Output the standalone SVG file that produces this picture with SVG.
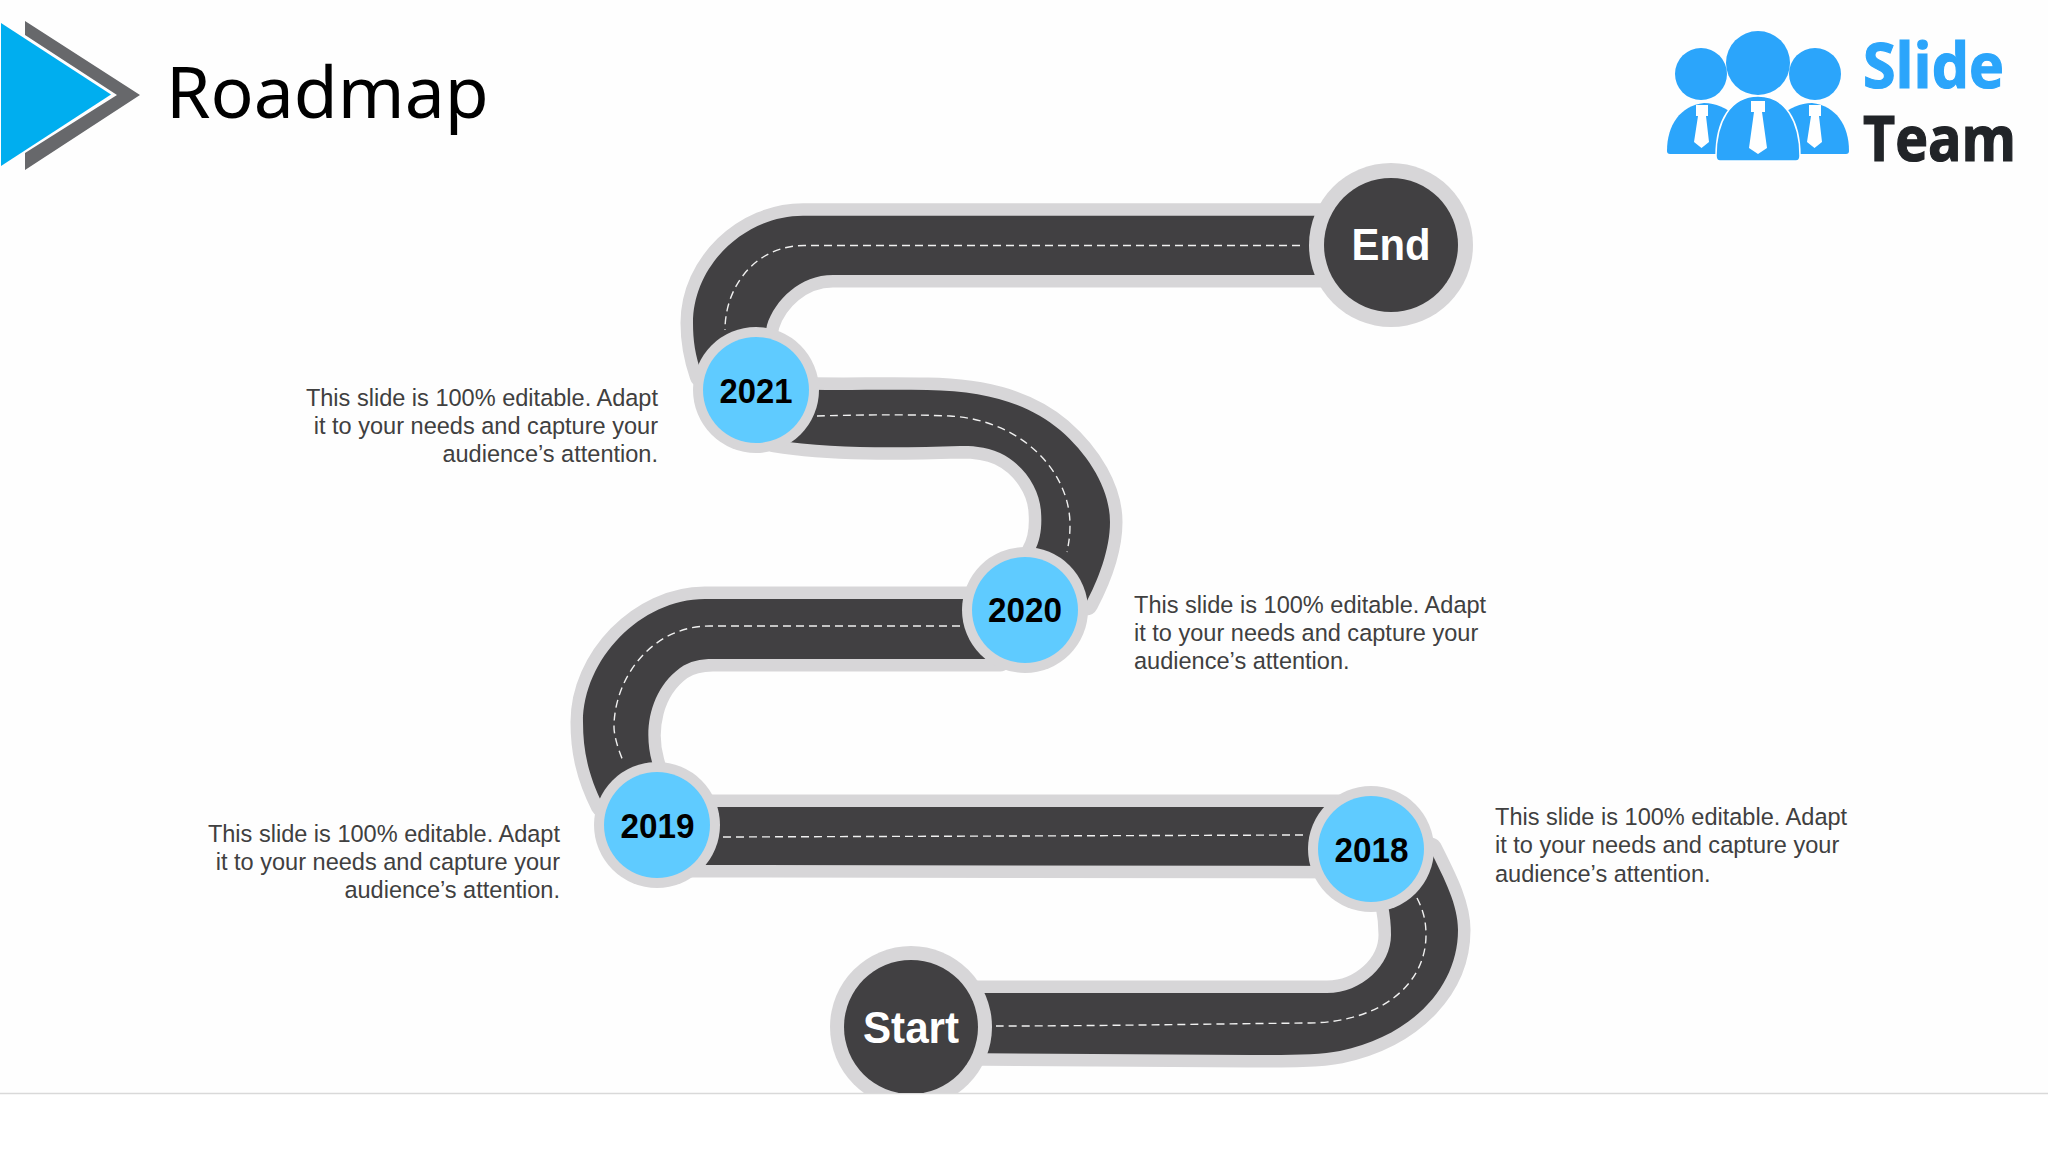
<svg xmlns="http://www.w3.org/2000/svg" width="2048" height="1152" viewBox="0 0 2048 1152">
<defs>
<clipPath id="slideClip"><rect x="0" y="0" width="2048" height="1093"/></clipPath>
</defs>
<style>
.road{fill:#414042;stroke:#d7d6d8;stroke-width:25;paint-order:stroke;stroke-linejoin:round}
.dash{fill:none;stroke:#f0f0f0;stroke-width:1.4;stroke-dasharray:8 5}
.rim{fill:#d7d6d8}
.blue{fill:#5fcbff}
.dark{fill:#414042}
.yr{font:bold 35px "Liberation Sans",Arial,sans-serif;fill:#000;text-anchor:middle}
.big{font:bold 44px "Liberation Sans",Arial,sans-serif;fill:#fff;text-anchor:middle}
.body{font:23.55px "Liberation Sans",Arial,sans-serif;fill:#404040}
.end{text-anchor:end}
.tie{fill:#fff}
.lg{fill:#2ba5fb}
</style>
<rect width="2048" height="1152" fill="#ffffff"/>
<rect width="2048" height="1093" fill="#fefefe"/>
<line x1="0" y1="1093.5" x2="2048" y2="1093.5" stroke="#d9d9d9" stroke-width="1.5"/>

<g id="header">
<polygon points="25,21 140,95 25,170 25,153 117,95 25,35" fill="#67686b"/>
<polygon points="1,23 111,94.5 1,166" fill="#00aeef"/>
<text x="166" y="118" font-family="'Noto Sans','Open Sans',sans-serif" font-size="71.500" fill="#000">Roadmap</text>
</g>

<g id="logo">
<circle class="lg" cx="1701" cy="74" r="26"/>
<circle class="lg" cx="1815" cy="74" r="26"/>
<circle class="lg" cx="1758" cy="63" r="32"/>
<path class="lg" d="M1667 151C1667 125 1680 106 1704 103C1716 103 1726 108 1735 115V154H1670Q1667 154 1667 151Z"/>
<path class="lg" d="M1849 151C1849 125 1836 106 1812 103C1800 103 1790 108 1781 115V154H1846Q1849 154 1849 151Z"/>
<path class="lg" stroke="#ffffff" stroke-width="1.500" d="M1716 156C1716 122 1730 96 1758 96C1786 96 1800 122 1800 156Q1800 161 1796 161H1720Q1716 161 1716 156Z"/>
<path class="tie" d="M1696 105H1708V116H1706L1709 142L1701.500 148L1694 142L1698 116H1696Z"/>
<path class="tie" d="M1751 101H1765V112H1762L1767 148L1758 154L1749 148L1754 112H1751Z"/>
<path class="tie" d="M1809 105H1821V116H1819L1822 142L1814.500 148L1807 142L1811 116H1809Z"/>
<text x="1863" y="88" font-family="'Open Sans','Noto Sans',sans-serif" font-weight="700" font-size="62" fill="#2ba5fb" stroke="#2ba5fb" stroke-width="1.2" textLength="141" lengthAdjust="spacingAndGlyphs">Slide</text>
<text x="1863" y="161" font-family="'Open Sans','Noto Sans',sans-serif" font-weight="700" font-size="62" fill="#212428" stroke="#212428" stroke-width="1.2" textLength="153" lengthAdjust="spacingAndGlyphs">Team</text>
</g>

<g id="connectors">
<path class="road" d="M1391 215.700H803C745 215.700 693 265 693 323C693 340 695 355 702 375L765 335L767 325C775 300 800 275 833 275H1391Z"/>
<path class="road" d="M790 389C830 391 880 389 927 390C990 391 1030 405 1060 430C1090 456 1110 490 1110 522C1110 550 1098 580 1086 603L1040 600L1034 552C1041 540 1042 525 1041 512C1040 490 1025 465 1000 453C985 446 970 446 960 446C900 448 830 449 775 440Z"/>
<path class="road" d="M1000 599H705C640 599 583 660 583 722C583 750 588 775 603 805L660 790L652 762C643 730 650 690 680 668C690 661 700 659 713 659H1000Z"/>
<path class="road" d="M680 807H1360V866L680 865Z"/>
<path class="road" clip-path="url(#slideClip)" d="M1430 850C1445 880 1458 905 1458 930C1458 985 1415 1035 1340 1051C1320 1055 1290 1055 1250 1055L950 1053V993H1327C1362 993 1391 965 1391 935C1391 925 1390 915 1388 905L1380 890Z"/>
<path class="dash" d="M1300 245.500H805C757 245 725 285 725 330"/>
<path class="dash" d="M817 416C850 415 900 414 950 416C1020 420 1070 470 1070 525C1070 535 1069 542 1067 552"/>
<path class="dash" d="M960 626H710C650 626 614 680 614 727C614 735 618 750 624 763"/>
<path class="dash" d="M723 837L1303 835"/>
<path class="dash" d="M1417 898C1423 910 1426 920 1426 935C1426 985 1380 1022 1310 1023C1200 1024 1100 1026 996 1026"/>
</g>

<g id="node-end"><circle class="rim" cx="1391" cy="245" r="82"/><circle class="dark" cx="1391" cy="245" r="67"/><text class="big" x="1391" y="260" textLength="79" lengthAdjust="spacingAndGlyphs">End</text></g>
<g id="node-2021"><circle class="rim" cx="756" cy="390" r="63"/><circle class="blue" cx="756" cy="390" r="53"/><text class="yr" x="756" y="403" textLength="73" lengthAdjust="spacingAndGlyphs">2021</text></g>
<g id="node-2020"><circle class="rim" cx="1025" cy="610" r="63"/><circle class="blue" cx="1025" cy="610" r="53"/><text class="yr" x="1025" y="622" textLength="74" lengthAdjust="spacingAndGlyphs">2020</text></g>
<g id="node-2019"><circle class="rim" cx="657" cy="825" r="63"/><circle class="blue" cx="657" cy="825" r="53"/><text class="yr" x="657.500" y="838" textLength="74" lengthAdjust="spacingAndGlyphs">2019</text></g>
<g id="node-2018"><circle class="rim" cx="1371" cy="849" r="63"/><circle class="blue" cx="1371" cy="849" r="53"/><text class="yr" x="1371.500" y="862" textLength="74" lengthAdjust="spacingAndGlyphs">2018</text></g>
<g id="node-start" clip-path="url(#slideClip)"><circle class="rim" cx="911" cy="1027" r="81"/><circle class="dark" cx="911" cy="1027" r="67"/><text class="big" x="911" y="1043" textLength="96" lengthAdjust="spacingAndGlyphs">Start</text></g>

<g id="text-2021"><text class="body end" x="658" y="405.500">This slide is 100% editable. Adapt</text><text class="body end" x="658" y="433.800">it to your needs and capture your</text><text class="body end" x="658" y="462">audience’s attention.</text></g>
<g id="text-2020"><text class="body" x="1134" y="612.500">This slide is 100% editable. Adapt</text><text class="body" x="1134" y="640.800">it to your needs and capture your</text><text class="body" x="1134" y="669">audience’s attention.</text></g>
<g id="text-2019"><text class="body end" x="560" y="841.500">This slide is 100% editable. Adapt</text><text class="body end" x="560" y="869.800">it to your needs and capture your</text><text class="body end" x="560" y="898">audience’s attention.</text></g>
<g id="text-2018"><text class="body" x="1495" y="825">This slide is 100% editable. Adapt</text><text class="body" x="1495" y="853.300">it to your needs and capture your</text><text class="body" x="1495" y="881.500">audience’s attention.</text></g>
</svg>
